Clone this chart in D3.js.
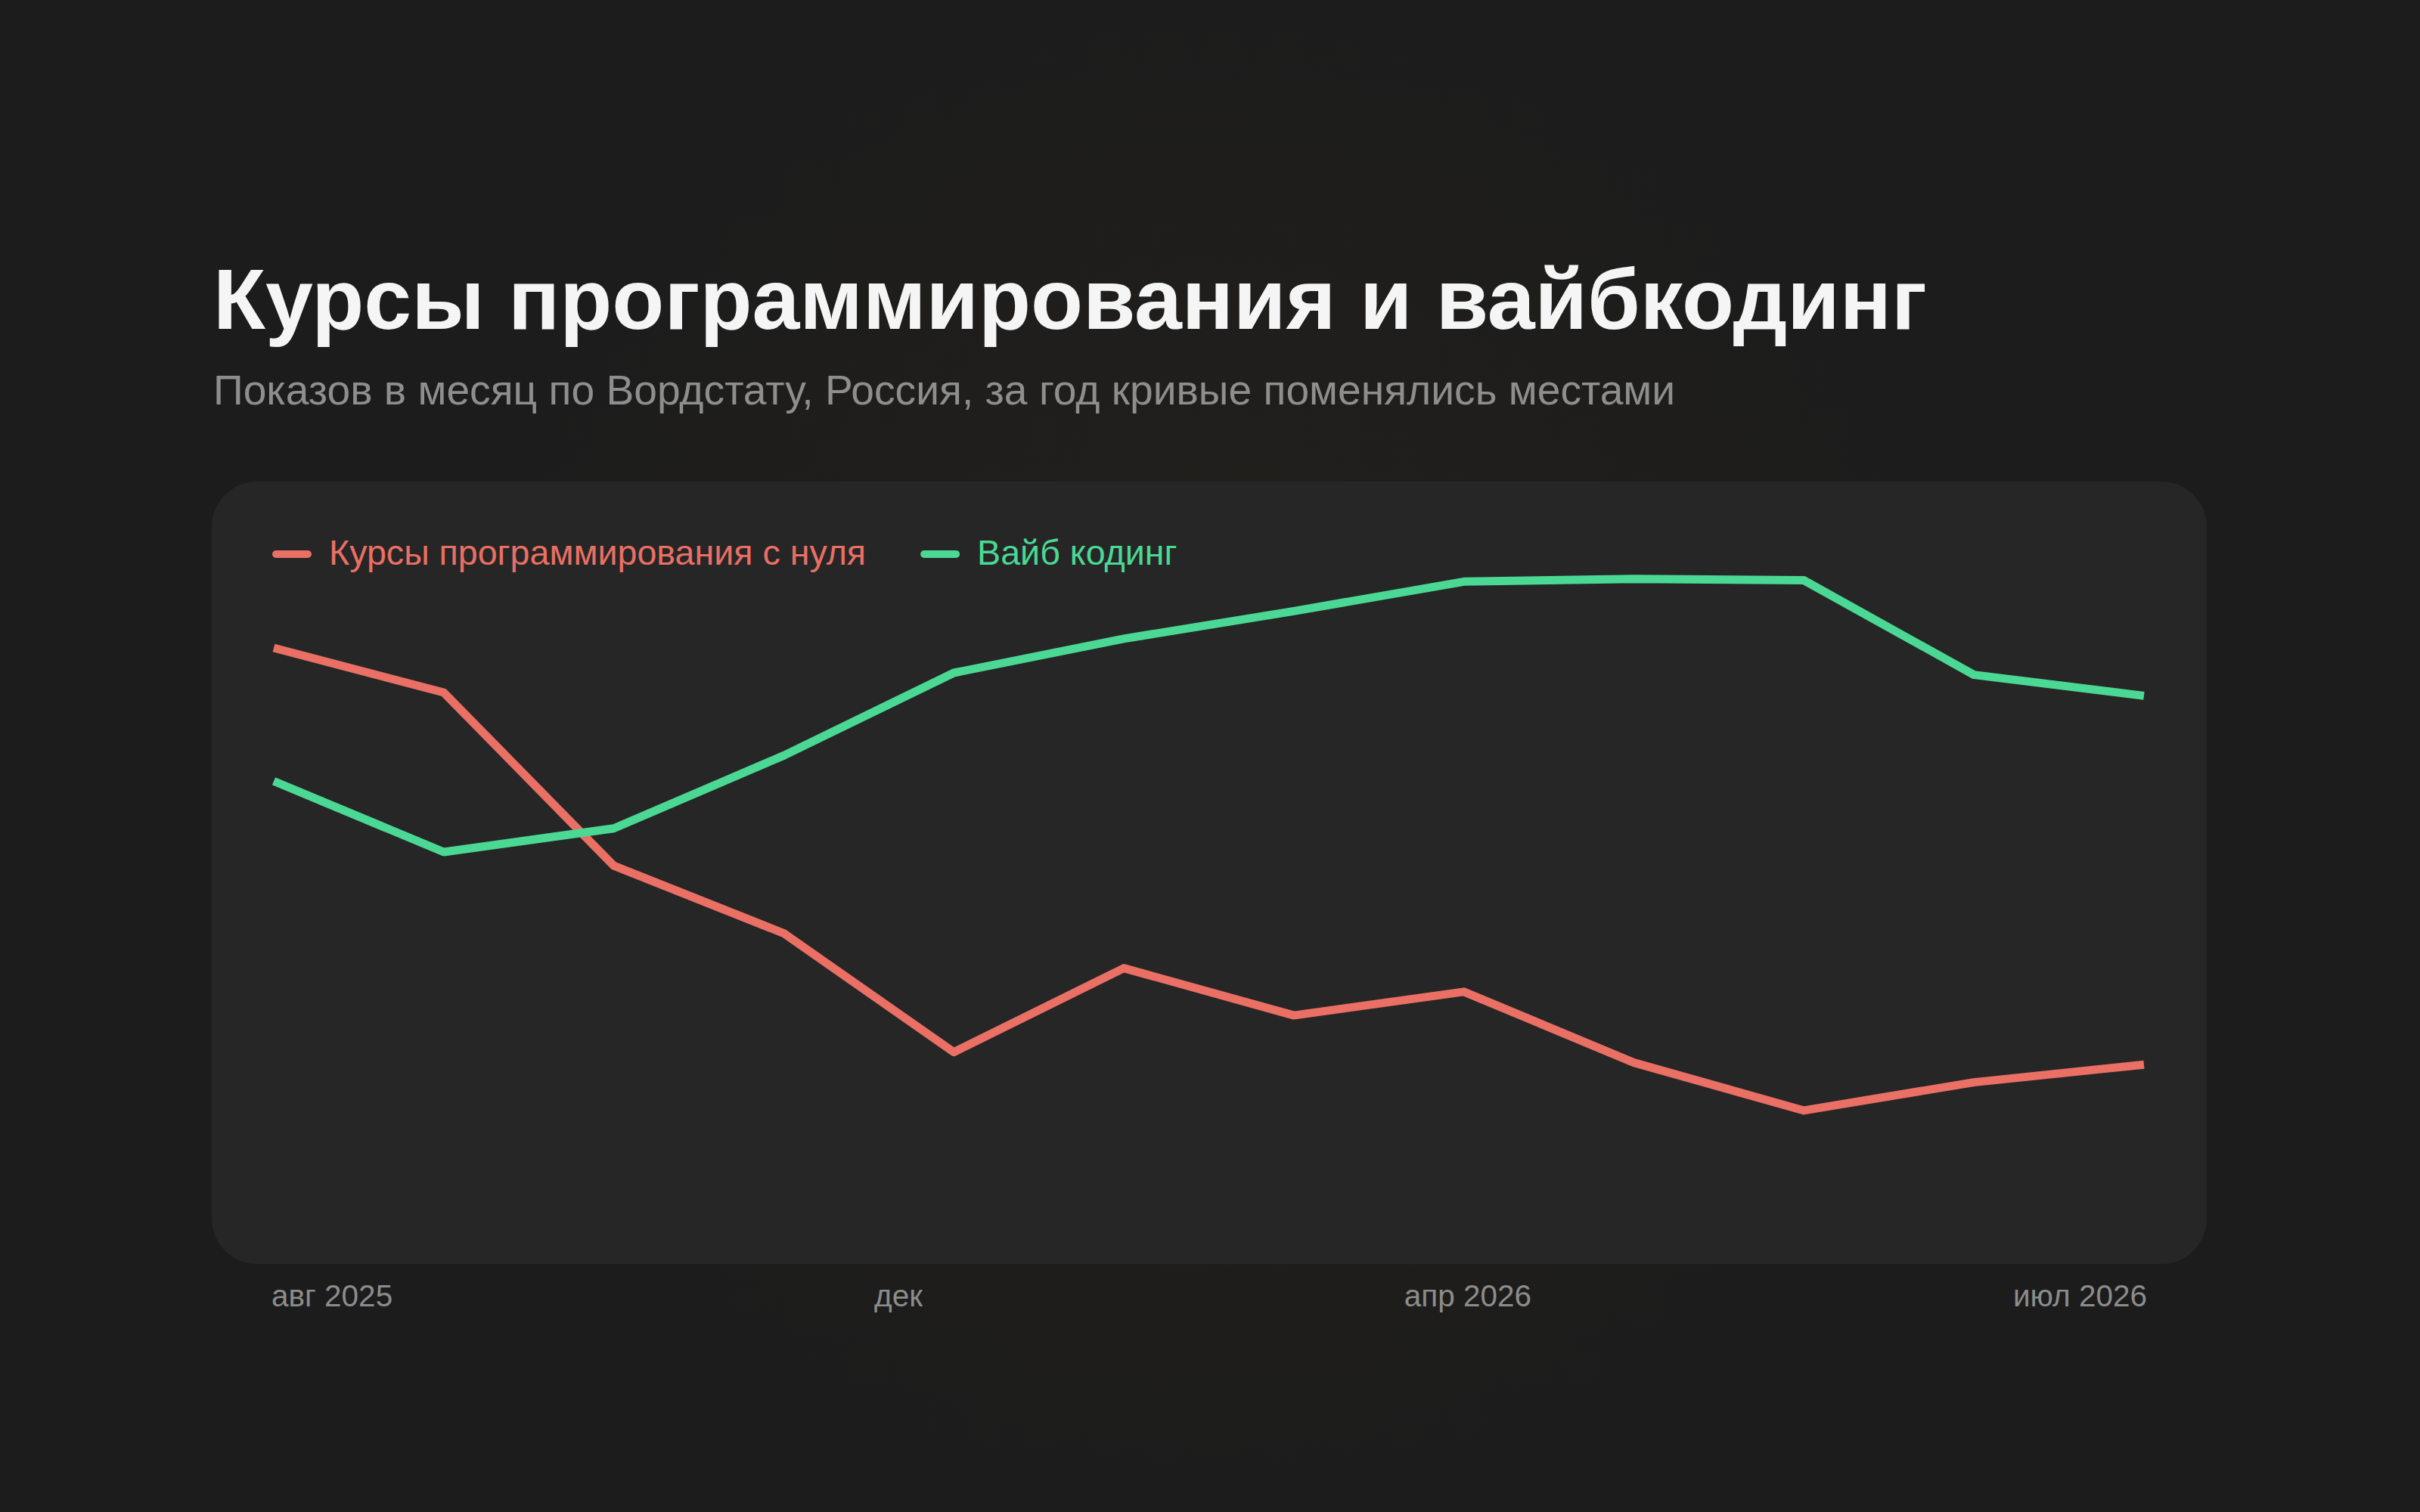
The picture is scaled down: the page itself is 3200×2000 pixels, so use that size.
<!DOCTYPE html>
<html><head><meta charset="utf-8">
<script src="https://cdn.jsdelivr.net/npm/d3@7"></script>
<style>html,body{margin:0;padding:0;background:#1c1c1c;overflow:hidden;}</style>
</head><body><div id="chart"></div>
<script>
// ---- data ----
const months = ["авг 2025","сен 2025","окт 2025","ноя 2025","дек 2025","янв 2026","фев 2026","мар 2026","апр 2026","май 2026","июн 2026","июл 2026"];
const seriesNames = ["Курсы программирования с нуля", "Вайб кодинг"];
const coursesValues = [89.4, 82.6, 56.2, 45.9, 27.8, 40.6, 33.4, 37.0, 26.2, 18.9, 23.2, 25.9];
const vibeValues = [69.1, 58.3, 61.9, 73.0, 85.6, 90.8, 95.0, 99.5, 99.9, 99.7, 85.3, 82.1];
const tickLabels = ["авг 2025", "дек", "апр 2026", "июл 2026"];
const titleText = "Курсы программирования и вайбкодинг";
const subtitleText = "Показов в месяц по Вордстату, Россия, за год кривые поменялись местами";

const W = 3200, H = 2000;
const font = "'Liberation Sans', Arial, Helvetica, sans-serif";
const colors = ["#ea6f64", "#4ad894"];

const svg = d3.select("#chart").append("svg")
  .attr("width", W).attr("height", H)
  .attr("viewBox", `0 0 ${W} ${H}`);

const defs = svg.append("defs");
const rg = defs.append("radialGradient").attr("id", "glow")
  .attr("gradientUnits", "userSpaceOnUse")
  .attr("cx", 1600).attr("cy", 1000).attr("r", 1000);
rg.append("stop").attr("offset", "0%").attr("stop-color", "#30281a").attr("stop-opacity", 0.3);
rg.append("stop").attr("offset", "60%").attr("stop-color", "#30281a").attr("stop-opacity", 0.15);
rg.append("stop").attr("offset", "100%").attr("stop-color", "#30281a").attr("stop-opacity", 0);

svg.append("rect").attr("width", W).attr("height", H).attr("fill", "#1c1c1c");
svg.append("rect").attr("width", W).attr("height", H).attr("fill", "url(#glow)");

// title
svg.append("text").attr("x", 282).attr("y", 435)
  .attr("font-family", font).attr("font-weight", 700).attr("font-size", 113)
  .attr("fill", "#f5f5f5").text(titleText);
svg.append("text").attr("x", 282).attr("y", 535)
  .attr("font-family", font).attr("font-size", 55.2)
  .attr("fill", "#8e8e8e").text(subtitleText);

// card
const card = {x: 280, y: 637, w: 2638, h: 1035};
svg.append("rect").attr("x", card.x).attr("y", card.y)
  .attr("width", card.w).attr("height", card.h)
  .attr("rx", 60).attr("ry", 60).attr("fill", "#262626");

// scales
const x = d3.scalePoint().domain(months).range([362, 2835]);
const y = d3.scaleLinear().domain([0, 100]).range([1633, 765]);

const line = d3.line().x((d, i) => x(months[i])).y(d => y(d));
[coursesValues, vibeValues].forEach((vals, k) => {
  svg.append("path").datum(vals)
    .attr("d", line)
    .attr("fill", "none")
    .attr("stroke", colors[k])
    .attr("stroke-width", 11)
    .attr("stroke-linejoin", "round")
    .attr("stroke-linecap", "butt");
});

// legend
const legend = svg.append("g").attr("transform", "translate(360,733)");
let lx = 0;
seriesNames.forEach((name, k) => {
  const g = legend.append("g").attr("transform", `translate(${lx},0)`);
  g.append("line").attr("x1", 5).attr("x2", 47).attr("y1", 0).attr("y2", 0)
    .attr("stroke", colors[k]).attr("stroke-width", 10).attr("stroke-linecap", "round");
  const t = g.append("text").attr("x", 75).attr("y", 14)
    .attr("font-family", font).attr("font-size", 46.6)
    .attr("fill", colors[k]).text(name);
  lx += 75 + t.node().getComputedTextLength() + 72;
});

// x labels, spread across the plot width
const labelG = svg.append("g");
const labels = tickLabels.map(s => labelG.append("text")
  .attr("y", 1728).attr("font-family", font).attr("font-size", 40.5)
  .attr("fill", "#8c8c8c").text(s));
const widths = labels.map(t => t.node().getComputedTextLength());
const x0 = x.range()[0] - 3, x1 = x.range()[1] + 4;
const gap = (x1 - x0 - d3.sum(widths)) / (labels.length - 1);
let cx = x0;
labels.forEach((t, i) => { t.attr("x", cx); cx += widths[i] + gap; });
</script>
</body></html>
